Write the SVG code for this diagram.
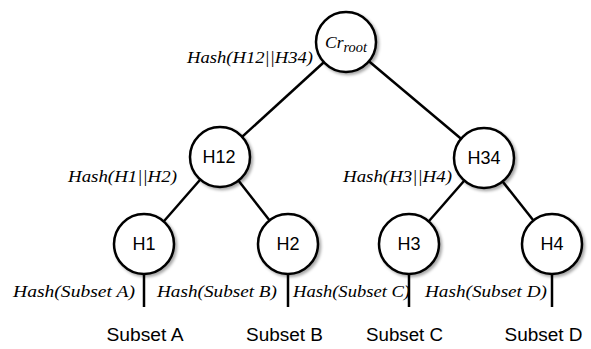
<svg xmlns="http://www.w3.org/2000/svg" width="591" height="349" viewBox="0 0 591 349">
<style>
.node{fill:#fff;stroke:#000;stroke-width:2.5;filter:url(#sh)}
.edge{stroke:#000;stroke-width:2.5;fill:none}
.nl{font-family:"Liberation Sans","Open Sans",sans-serif;font-size:18px;fill:#000;text-anchor:middle}
.hl{font-family:"Liberation Serif","DejaVu Serif",serif;font-style:italic;font-size:17px;fill:#000}
.sl{font-family:"Liberation Sans","Open Sans",sans-serif;font-size:18px;fill:#000;text-anchor:middle}
</style>
<defs>
<filter id="sh" x="-30%" y="-30%" width="170%" height="170%">
<feDropShadow dx="2" dy="2" stdDeviation="1.5" flood-color="#000" flood-opacity="0.35"/>
</filter>
</defs>
<rect width="591" height="349" fill="#fff"/>
<g id="connectors">
<line class="edge" x1="346" y1="42" x2="220" y2="157"/>
<line class="edge" x1="346" y1="42" x2="484" y2="158"/>
<line class="edge" x1="220" y1="157" x2="144" y2="244"/>
<line class="edge" x1="220" y1="157" x2="288" y2="244"/>
<line class="edge" x1="484" y1="158" x2="409" y2="244"/>
<line class="edge" x1="484" y1="158" x2="552" y2="244"/>
<line class="edge" x1="144" y1="244" x2="144" y2="307"/>
<line class="edge" x1="288" y1="244" x2="288" y2="307"/>
<line class="edge" x1="409" y1="244" x2="409" y2="307"/>
<line class="edge" x1="552" y1="244" x2="552" y2="307"/>
</g>
<g id="root">
<circle class="node" cx="346" cy="42" r="30"/>
<text class="hl" x="325" y="48" font-size="18" textLength="42" lengthAdjust="spacingAndGlyphs">Cr<tspan font-size="14" dy="4">root</tspan></text>
</g>
<g id="H12">
<circle class="node" cx="220" cy="157" r="30"/>
<text class="nl" x="219" y="163">H12</text>
</g>
<g id="H34">
<circle class="node" cx="484" cy="158" r="30"/>
<text class="nl" x="484" y="164">H34</text>
</g>
<g id="H1">
<circle class="node" cx="144" cy="244" r="30"/>
<text class="nl" x="144" y="250">H1</text>
</g>
<g id="H2">
<circle class="node" cx="288" cy="244" r="30"/>
<text class="nl" x="288" y="250">H2</text>
</g>
<g id="H3">
<circle class="node" cx="409" cy="244" r="30"/>
<text class="nl" x="409" y="250">H3</text>
</g>
<g id="H4">
<circle class="node" cx="552" cy="244" r="30"/>
<text class="nl" x="552" y="250">H4</text>
</g>
<g id="labels">
<text class="hl" x="187" y="63" textLength="126" lengthAdjust="spacingAndGlyphs">Hash(H12||H34)</text>
<text class="hl" x="68" y="182" textLength="109" lengthAdjust="spacingAndGlyphs">Hash(H1||H2)</text>
<text class="hl" x="343" y="182" textLength="109" lengthAdjust="spacingAndGlyphs">Hash(H3||H4)</text>
<text class="hl" x="13" y="297" textLength="122" lengthAdjust="spacingAndGlyphs">Hash(Subset A)</text>
<text class="hl" x="157" y="297" textLength="120" lengthAdjust="spacingAndGlyphs">Hash(Subset B)</text>
<text class="hl" x="293" y="297" textLength="117" lengthAdjust="spacingAndGlyphs">Hash(Subset C)</text>
<text class="hl" x="425" y="297" textLength="122" lengthAdjust="spacingAndGlyphs">Hash(Subset D)</text>
<text class="sl" x="145" y="341" textLength="77" lengthAdjust="spacingAndGlyphs">Subset A</text>
<text class="sl" x="284.5" y="341" textLength="77" lengthAdjust="spacingAndGlyphs">Subset B</text>
<text class="sl" x="404.5" y="341" textLength="77" lengthAdjust="spacingAndGlyphs">Subset C</text>
<text class="sl" x="543.5" y="341" textLength="78" lengthAdjust="spacingAndGlyphs">Subset D</text>
</g>
</svg>
